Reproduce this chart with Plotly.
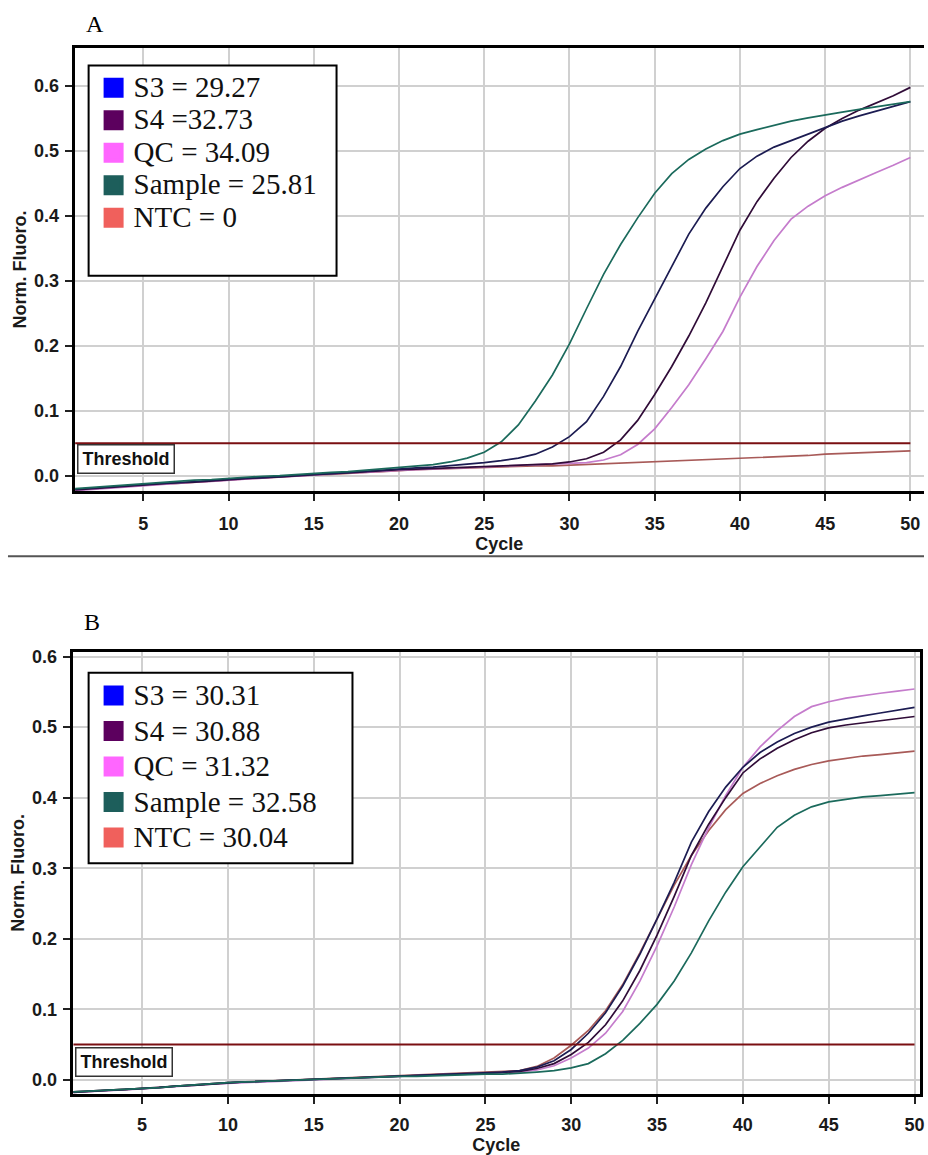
import plotly.graph_objects as go

# ---------------- data ----------------
CYCLES = list(range(1, 51))
THRESHOLD = 0.05
SERIES = ["S3", "S4", "QC", "Sample", "NTC"]

LEGEND_A = ["S3 = 29.27", "S4 =32.73", "QC = 34.09", "Sample = 25.81", "NTC = 0"]
LEGEND_B = ["S3 = 30.31", "S4 = 30.88", "QC = 31.32", "Sample = 32.58", "NTC = 30.04"]

A_S3 = [-0.021, -0.019, -0.018, -0.016, -0.014, -0.012, -0.011, -0.009, -0.008, -0.006,
        -0.004, -0.003, -0.001, 0.000, 0.002, 0.003, 0.005, 0.007, 0.008, 0.010,
        0.012, 0.013, 0.015, 0.017, 0.020, 0.023, 0.027, 0.033, 0.044, 0.060,
        0.083, 0.122, 0.168, 0.222, 0.272, 0.323, 0.372, 0.412, 0.445, 0.473,
        0.492, 0.506, 0.516, 0.527, 0.537, 0.546, 0.554, 0.561, 0.568, 0.576]
A_S4 = [-0.022, -0.020, -0.018, -0.017, -0.015, -0.013, -0.011, -0.010, -0.008, -0.006,
        -0.005, -0.003, -0.002, 0.000, 0.001, 0.003, 0.004, 0.006, 0.007, 0.009,
        0.010, 0.011, 0.012, 0.013, 0.014, 0.015, 0.016, 0.017, 0.018, 0.021,
        0.026, 0.036, 0.055, 0.085, 0.125, 0.168, 0.215, 0.266, 0.322, 0.378,
        0.422, 0.458, 0.490, 0.515, 0.535, 0.550, 0.563, 0.574, 0.585, 0.598]
A_QC = [-0.023, -0.021, -0.019, -0.017, -0.015, -0.014, -0.012, -0.010, -0.009, -0.007,
        -0.005, -0.004, -0.002, -0.001, 0.001, 0.002, 0.004, 0.005, 0.007, 0.008,
        0.009, 0.010, 0.011, 0.012, 0.013, 0.014, 0.015, 0.016, 0.017, 0.018,
        0.020, 0.024, 0.032, 0.048, 0.072, 0.105, 0.140, 0.180, 0.222, 0.275,
        0.322, 0.362, 0.395, 0.415, 0.431, 0.444, 0.456, 0.467, 0.478, 0.490]
A_SAMPLE = [-0.020, -0.018, -0.016, -0.014, -0.012, -0.011, -0.009, -0.007, -0.006, -0.004,
            -0.003, -0.001, 0.000, 0.002, 0.003, 0.005, 0.006, 0.008, 0.010, 0.012,
            0.014, 0.017, 0.021, 0.027, 0.036, 0.052, 0.078, 0.115, 0.155, 0.203,
            0.257, 0.310, 0.356, 0.397, 0.435, 0.465, 0.487, 0.503, 0.516, 0.526,
            0.533, 0.540, 0.546, 0.551, 0.556, 0.560, 0.564, 0.568, 0.572, 0.576]
A_NTC = [-0.022, -0.020, -0.019, -0.017, -0.015, -0.013, -0.012, -0.010, -0.008, -0.007,
         -0.005, -0.004, -0.002, -0.001, 0.001, 0.002, 0.004, 0.005, 0.006, 0.008,
         0.009, 0.010, 0.011, 0.012, 0.013, 0.013, 0.014, 0.015, 0.015, 0.016,
         0.017, 0.018, 0.019, 0.020, 0.022, 0.023, 0.024, 0.025, 0.026, 0.027,
         0.028, 0.029, 0.030, 0.031, 0.033, 0.034, 0.036, 0.037, 0.037, 0.038]

B_S3 = [-0.017, -0.016, -0.015, -0.014, -0.013, -0.011, -0.009, -0.007, -0.006, -0.004,
        -0.003, -0.002, -0.001, 0.000, 0.000, 0.001, 0.002, 0.003, 0.004, 0.005,
        0.006, 0.007, 0.008, 0.009, 0.010, 0.011, 0.013, 0.018, 0.027, 0.043,
        0.066, 0.095, 0.133, 0.178, 0.228, 0.280, 0.337, 0.380, 0.415, 0.443,
        0.464, 0.479, 0.491, 0.500, 0.507, 0.512, 0.516, 0.520, 0.524, 0.528]
B_S4 = [-0.018, -0.016, -0.015, -0.014, -0.012, -0.011, -0.009, -0.008, -0.006, -0.004,
        -0.003, -0.002, -0.001, 0.000, 0.001, 0.001, 0.002, 0.003, 0.004, 0.005,
        0.006, 0.007, 0.007, 0.008, 0.009, 0.010, 0.012, 0.016, 0.023, 0.036,
        0.053, 0.078, 0.112, 0.155, 0.205, 0.260, 0.318, 0.362, 0.400, 0.435,
        0.455, 0.470, 0.482, 0.492, 0.499, 0.503, 0.506, 0.509, 0.512, 0.515]
B_QC = [-0.018, -0.017, -0.016, -0.014, -0.013, -0.011, -0.010, -0.008, -0.006, -0.005,
        -0.003, -0.002, -0.001, 0.000, 0.001, 0.002, 0.003, 0.004, 0.005, 0.006,
        0.006, 0.007, 0.008, 0.008, 0.009, 0.010, 0.011, 0.014, 0.020, 0.031,
        0.045, 0.066, 0.097, 0.140, 0.190, 0.245, 0.305, 0.357, 0.403, 0.443,
        0.472, 0.495, 0.515, 0.529, 0.536, 0.541, 0.545, 0.548, 0.551, 0.554]
B_SAMPLE = [-0.017, -0.016, -0.015, -0.014, -0.013, -0.011, -0.009, -0.007, -0.006, -0.004,
            -0.003, -0.002, -0.001, 0.000, 0.000, 0.001, 0.002, 0.003, 0.004, 0.005,
            0.005, 0.006, 0.007, 0.007, 0.008, 0.008, 0.009, 0.011, 0.013, 0.017,
            0.023, 0.037, 0.056, 0.080, 0.107, 0.140, 0.180, 0.225, 0.266, 0.302,
            0.330, 0.358, 0.375, 0.387, 0.394, 0.398, 0.401, 0.403, 0.405, 0.407]
B_NTC = [-0.017, -0.016, -0.015, -0.013, -0.012, -0.011, -0.009, -0.007, -0.005, -0.004,
         -0.003, -0.002, -0.001, 0.000, 0.001, 0.002, 0.003, 0.004, 0.005, 0.006,
         0.007, 0.008, 0.008, 0.009, 0.010, 0.011, 0.013, 0.019, 0.031, 0.049,
         0.070, 0.098, 0.135, 0.180, 0.228, 0.276, 0.318, 0.353, 0.383, 0.406,
         0.420, 0.431, 0.440, 0.447, 0.452, 0.456, 0.459, 0.461, 0.463, 0.466]

LINE_COLORS = {"S3": "#1c1c52", "S4": "#300c38", "QC": "#c57ccc",
               "Sample": "#1b6a5c", "NTC": "#a85a58"}
LEGEND_COLORS = {"S3": "#0000ff", "S4": "#5c005e", "QC": "#ff66ff",
                 "Sample": "#1d5e5b", "NTC": "#f0605c"}

PANEL_A = {"S3": A_S3, "S4": A_S4, "QC": A_QC, "Sample": A_SAMPLE, "NTC": A_NTC}
PANEL_B = {"S3": B_S3, "S4": B_S4, "QC": B_QC, "Sample": B_SAMPLE, "NTC": B_NTC}

# ---------------- figure ----------------
W, H = 928, 1155
def px(x):
    return x / W
def py(y):
    return 1 - y / H

fig = go.Figure()
DRAW_ORDER = ["NTC", "QC", "S4", "S3", "Sample"]

for panel, xa, ya, leg, labels in [(PANEL_A, "x", "y", "legend", LEGEND_A),
                                  (PANEL_B, "x2", "y2", "legend2", LEGEND_B)]:
    for name in DRAW_ORDER:
        fig.add_trace(go.Scatter(x=CYCLES, y=panel[name], mode="lines", xaxis=xa, yaxis=ya,
                                 line=dict(color=LINE_COLORS[name], width=1.7),
                                 showlegend=False, name=name))
    fig.add_trace(go.Scatter(x=[CYCLES[0], CYCLES[-1]], y=[THRESHOLD, THRESHOLD], mode="lines",
                             xaxis=xa, yaxis=ya, line=dict(color="#7a0f12", width=2),
                             showlegend=False, name="Threshold"))
    for name, lab in zip(SERIES, labels):
        fig.add_trace(go.Scatter(x=[None], y=[None], mode="markers", xaxis=xa, yaxis=ya,
                                 legend=leg,
                                 name='<span style="font-size:29px">' + lab + '</span>',
                                 marker=dict(symbol="square", size=16, color=LEGEND_COLORS[name],
                                             line=dict(color=LEGEND_COLORS[name], width=4)),
                                 showlegend=True, legendrank=SERIES.index(name)))

tickfont = dict(family="Liberation Sans", size=18, color="#1a1a1a", weight="bold")
common_x = dict(tickmode="array", tickvals=[5, 10, 15, 20, 25, 30, 35, 40, 45, 50],
                showgrid=True, gridcolor="#d0d0d0", gridwidth=1.5, zeroline=False,
                showline=True, linecolor="black", linewidth=3, mirror=True,
                ticks="outside", ticklen=7, tickwidth=2, tickcolor="#222",
                tickfont=tickfont, ticklabelstandoff=7, ticklabeloverflow="allow",
                title=dict(text="Cycle", font=tickfont, standoff=5))
common_y = dict(tickmode="array", tickvals=[0, 0.1, 0.2, 0.3, 0.4, 0.5, 0.6], tickformat=".1f",
                showgrid=True, gridcolor="#d0d0d0", gridwidth=1.5, zeroline=False,
                showline=True, linecolor="black", linewidth=3,
                ticks="outside", ticklen=7, tickwidth=2, tickcolor="#222",
                tickfont=tickfont, ticklabelstandoff=2,
                title=dict(text="Norm. Fluoro.", font=tickfont, standoff=3))

legend_common = dict(bgcolor="rgba(0,0,0,0)", borderwidth=0, xanchor="left", yanchor="top",
                     font=dict(family="Liberation Serif", size=22.7, color="#111"),
                     tracegroupgap=0, itemclick=False)

fig.update_layout(
    width=W, height=H, margin=dict(l=0, r=0, t=0, b=0),
    paper_bgcolor="white", plot_bgcolor="white",
    xaxis=dict(common_x, domain=[px(75), 1.0], range=[0.97, 50.8], anchor="y"),
    yaxis=dict(common_y, domain=[py(490), py(43.3)], range=[-0.024, 0.6587], anchor="x"),
    xaxis2=dict(common_x, domain=[px(73), px(924)], range=[0.957, 50.32], anchor="y2",
                ticklabelstandoff=5,
                title=dict(text="Cycle", font=tickfont, standoff=8)),
    yaxis2=dict(common_y, domain=[py(1097.7), py(651.7)], range=[-0.0203, 0.607], anchor="x2",
                mirror=True),
    legend=dict(legend_common, x=px(94), y=py(62)),
    legend2=dict(legend_common, x=px(94), y=py(673),
                 font=dict(family="Liberation Serif", size=25, color="#111")),
    showlegend=True,
)

shapes = [
    dict(type="rect", xref="paper", yref="paper", x0=px(89), x1=px(338), y0=py(273), y1=py(61),
         fillcolor="white", line=dict(color="black", width=2), layer="above"),
    dict(type="rect", xref="paper", yref="paper", x0=px(89), x1=px(354), y0=py(865), y1=py(673),
         fillcolor="white", line=dict(color="black", width=2), layer="above"),
    dict(type="line", xref="paper", yref="paper", x0=px(8), x1=1.0, y0=py(555.5), y1=py(555.5),
         line=dict(color="#555", width=2)),
]
fig.update_layout(shapes=shapes)

thr_font = dict(family="Liberation Sans", size=18, color="#111", weight="bold")
annotations = [
    dict(text="A", xref="paper", yref="paper", x=px(84), y=py(19.5), xanchor="left",
         yanchor="middle", showarrow=False,
         font=dict(family="Liberation Serif", size=24, color="black")),
    dict(text="B", xref="paper", yref="paper", x=px(82), y=py(621.5), xanchor="left",
         yanchor="middle", showarrow=False,
         font=dict(family="Liberation Serif", size=24, color="black")),
    dict(text="Threshold", xref="paper", yref="paper", x=px(77), y=py(442), xanchor="left",
         yanchor="top", showarrow=False, width=93, height=25, borderpad=1, borderwidth=1.5,
         bordercolor="#333", bgcolor="white", font=thr_font),
    dict(text="Threshold", xref="paper", yref="paper", x=px(75), y=py(1050), xanchor="left",
         yanchor="top", showarrow=False, width=93, height=25, borderpad=1, borderwidth=1.5,
         bordercolor="#333", bgcolor="white", font=thr_font),
]
fig.update_layout(annotations=annotations)

fig.write_html("out.html", config={"displayModeBar": False},
               post_script="document.body.style.margin='0';document.body.style.overflow='hidden';")
